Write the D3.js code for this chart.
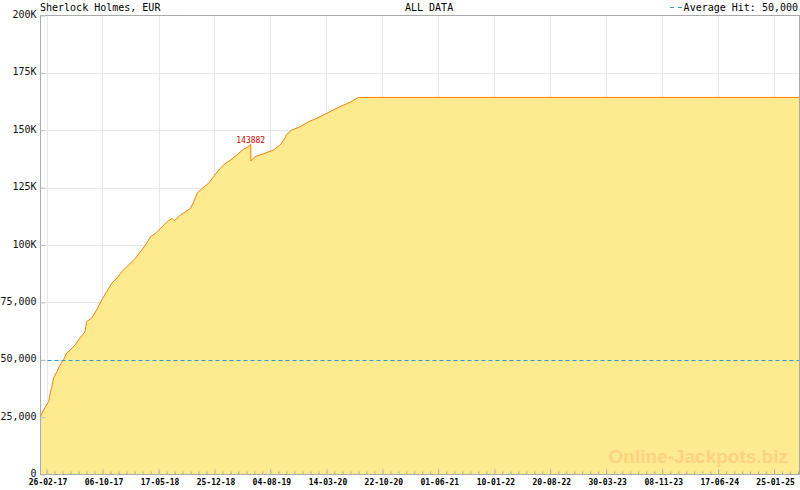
<!DOCTYPE html>
<html><head><meta charset="utf-8">
<script src="https://cdn.jsdelivr.net/npm/d3@7"></script>
<style>
html,body{margin:0;padding:0;background:#fff;}
svg{display:block;}
</style>
</head><body>
<svg id="chart" width="800" height="490"></svg>
<script>
// ---- data ----
const title = "Sherlock Holmes, EUR";
const subtitle = "ALL DATA";
const legendLabel = "Average Hit: 50,000";
const averageHit = 50000;
const watermark = "Online-Jackpots.biz";

const dates = [
  "2017-02-02","2017-02-14","2017-03-06","2017-03-13","2017-03-19","2017-03-26","2017-04-08","2017-04-21",
  "2017-05-04","2017-05-17","2017-05-31","2017-06-19","2017-07-09","2017-07-29","2017-08-04","2017-08-24",
  "2017-09-13","2017-10-03","2017-10-23","2017-11-12","2017-12-02","2017-12-22","2018-01-11","2018-02-14",
  "2018-03-26","2018-04-15","2018-05-05","2018-05-25","2018-06-20","2018-07-10","2018-07-19","2018-08-12",
  "2018-09-01","2018-09-21","2018-10-04","2018-10-17","2018-11-06","2018-12-02","2018-12-22","2019-01-11",
  "2019-01-30","2019-02-26","2019-03-24","2019-04-19","2019-05-09","2019-05-18","2019-05-19","2019-06-04",
  "2019-07-14","2019-08-16","2019-09-12","2019-10-01","2019-10-08","2019-10-28","2019-11-30","2020-01-03",
  "2020-02-18","2020-03-28","2020-05-07","2020-06-16","2020-07-19","2025-05-04"
];
const values = [
  25200, 28100, 31700, 35500, 38300, 42000, 44800, 47700,
  49900, 52900, 54200, 56400, 59500, 62200, 66600, 68100,
  71700, 76000, 79700, 83300, 85500, 88400, 90500, 94200,
  100000, 103600, 105100, 107300, 110200, 111600, 110600, 113100,
  114500, 116000, 118900, 122500, 124700, 126900, 129800, 132700,
  134900, 137000, 139200, 141700, 142800, 143882, 136600, 138500,
  140000, 141400, 143600, 146500, 148200, 150100, 151500, 153700,
  155900, 158100, 160300, 162200, 164300, 164300
];

const xTickLabels = ["26-02-17","06-10-17","17-05-18","25-12-18","04-08-19","14-03-20","22-10-20",
  "01-06-21","10-01-22","20-08-22","30-03-23","08-11-23","17-06-24","25-01-25"];
const yTickValues = [0, 25000, 50000, 75000, 100000, 125000, 150000, 175000, 200000];
const yTickLabels = ["0","25,000","50,000","75,000","100K","125K","150K","175K","200K"];
const xDomain = ["2017-02-02","2025-05-04"];

// ---- drawing ----
const parse = d3.timeParse("%Y-%m-%d");
const parseTick = d3.timeParse("%d-%m-%y");
const data = dates.map((d,i)=>({date: parse(d), value: values[i]}));
const tickDates = xTickLabels.map(parseTick);

const L = 40.5, R = 799.5, T = 15.5, B = 474.5;
const x = d3.scaleTime().domain(xDomain.map(parse)).range([L, R - 0.5]);
const y = d3.scaleLinear().domain([0, 200000]).range([B, T]);

const svg = d3.select("#chart");
const mono = "'DejaVu Sans Mono', 'Liberation Mono', monospace";
const gridColor = "#e8e8e8";
const axisColor = "#aaaaaa";

// gridlines
svg.append("g").selectAll("line").data(yTickValues.filter(v=>v>0 && v<200000)).join("line")
  .attr("x1", L).attr("x2", R).attr("y1", d=>Math.round(y(d))+0.5).attr("y2", d=>Math.round(y(d))+0.5)
  .attr("stroke", gridColor).attr("stroke-width", 1);
svg.append("g").selectAll("line").data(tickDates).join("line")
  .attr("x1", d=>Math.round(x(d))+0.5).attr("x2", d=>Math.round(x(d))+0.5).attr("y1", T).attr("y2", B)
  .attr("stroke", gridColor).attr("stroke-width", 1);

// area + line
const area = d3.area().x(d=>x(d.date)).y0(y(0)).y1(d=>y(d.value));
const line = d3.line().x(d=>x(d.date)).y(d=>y(d.value));
svg.append("path").datum(data).attr("d", area).attr("fill", "#feea8f");
svg.append("path").datum(data).attr("d", line).attr("fill", "none")
  .attr("stroke", "#ff8000").attr("stroke-width", 1);

// watermark
svg.append("text").attr("x", 788).attr("y", 463).attr("text-anchor", "end")
  .attr("font-family", "'Liberation Sans', Arial, sans-serif").attr("font-weight", "bold")
  .attr("font-size", 19).attr("fill", "#ffd27f").text(watermark);

// average line
svg.append("line").attr("x1", L).attr("x2", R)
  .attr("y1", Math.round(y(averageHit))+0.5).attr("y2", Math.round(y(averageHit))+0.5)
  .attr("stroke", "#2e9ad8").attr("stroke-width", 1).attr("stroke-dasharray", "4,3");

// border
svg.append("rect").attr("x", L).attr("y", T).attr("width", R-L).attr("height", B-T)
  .attr("fill", "none").attr("stroke", axisColor).attr("stroke-width", 1);

// y axis
const yAxis = d3.axisLeft(y).tickValues(yTickValues)
  .tickFormat((d,i)=>yTickLabels[i]).tickSizeInner(-5).tickSizeOuter(0).tickPadding(4);
const gy = svg.append("g").attr("transform", `translate(${L},0)`).call(yAxis);
gy.select(".domain").remove();
gy.selectAll(".tick line").attr("stroke", "#c4c4c4");
gy.selectAll("text").attr("font-family", mono).attr("font-size", 10).attr("fill", "#111")
  .attr("dy", "0.2em");

// minor x ticks
const minor = [];
for (let i = 0; i < tickDates.length; i++) {
  const a = tickDates[i];
  const b = i < tickDates.length-1 ? tickDates[i+1] : null;
  const step = b ? (b - a)/7 : (tickDates[1]-tickDates[0])/7;
  for (let k = 1; k < 7; k++) {
    const t = new Date(+a + k*step);
    if (x(t) < R - 1) minor.push(t);
  }
}
const gmin = svg.append("g").attr("transform", `translate(0,${B})`)
  .call(d3.axisBottom(x).tickValues(minor).tickFormat("").tickSizeInner(-3).tickSizeOuter(0));
gmin.select(".domain").remove();
gmin.selectAll(".tick line").attr("stroke", axisColor);

// major x ticks
const xAxis = d3.axisBottom(x).tickValues(tickDates)
  .tickFormat((d,i)=>xTickLabels[i]).tickSizeInner(-5).tickSizeOuter(0).tickPadding(5);
const gx = svg.append("g").attr("transform", `translate(0,${B})`).call(xAxis);
gx.select(".domain").remove();
gx.selectAll(".tick line").attr("stroke", axisColor);
gx.selectAll("text").attr("font-family", mono).attr("font-size", 8).attr("font-weight", "bold")
  .attr("fill", "#000").attr("dx", 1);

// titles
svg.append("text").attr("x", 40).attr("y", 11).attr("font-family", mono).attr("font-size", 10)
  .attr("fill", "#000").text(title);
svg.append("text").attr("x", 405).attr("y", 11).attr("font-family", mono).attr("font-size", 10)
  .attr("fill", "#000").text(subtitle);
svg.append("text").attr("x", 798).attr("y", 11).attr("text-anchor", "end").attr("font-family", mono)
  .attr("font-size", 10).attr("fill", "#000").text(legendLabel);
svg.append("line").attr("x1", 670).attr("x2", 683).attr("y1", 7.5).attr("y2", 7.5)
  .attr("stroke", "#2e9ad8").attr("stroke-dasharray", "4,4");

// peak label: the point just before the largest drop
let dropIdx = 0, bestDrop = -Infinity;
for (let i = 0; i < data.length - 1; i++) {
  const dv = data[i].value - data[i+1].value;
  if (dv > bestDrop) { bestDrop = dv; dropIdx = i; }
}
const peak = data[dropIdx];
svg.append("text").attr("x", x(peak.date)).attr("y", y(peak.value) - 1)
  .attr("text-anchor", "middle").attr("font-family", mono).attr("font-size", 8)
  .attr("fill", "#cc0000").text(String(peak.value));
</script>
</body></html>
